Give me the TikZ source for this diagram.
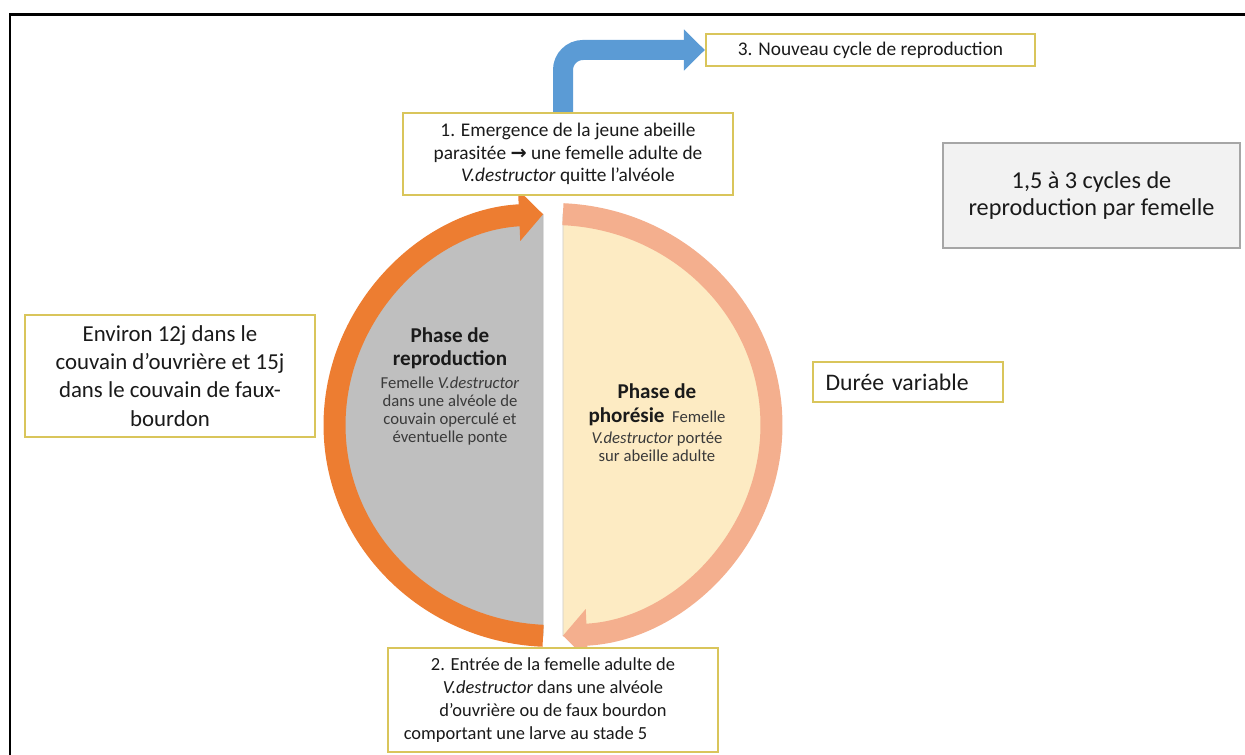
\documentclass[tikz,border=0pt]{standalone}
\usepackage{fontspec}
\setmainfont{Carlito}
\newfontfamily\symfont{DejaVu Sans}
\usetikzlibrary{positioning, arrows.meta}

\definecolor{boxline}{HTML}{D9C55B}
\definecolor{gboxline}{HTML}{A6A6A6}
\definecolor{gboxfill}{HTML}{F2F2F2}
\definecolor{txt}{HTML}{1A1A1A}
\definecolor{bodytxt}{HTML}{3A3A3A}
\definecolor{flowblue}{HTML}{5B9BD5}
\definecolor{reporange}{HTML}{ED7D31}
\definecolor{phosalmon}{HTML}{F4AF8E}
\definecolor{repfill}{HTML}{BFBFBF}
\definecolor{phofill}{HTML}{FDEBC3}

\newcommand{\phasetitle}[1]{{\bfseries\color{txt}\fontsize{12}{13}\selectfont #1}}

\begin{document}
\begin{tikzpicture}[
    ybox/.style={draw=boxline, line width=1.3pt, fill=white, align=center, text=txt, inner sep=0pt},
    gbox/.style={draw=gboxline, line width=0.8pt, fill=gboxfill, align=center, text=txt, inner sep=0pt},
    ctext/.style={align=center, inner sep=0pt, text=bodytxt, font=\fontsize{9.5}{10.3}\selectfont},
    ring/.style={line width=0.44cm, -{Triangle[length=0.48cm,width=1.0cm]}},
    bluearr/.style={draw=flowblue, line width=0.4cm, rounded corners=0.4cm, -{Triangle[length=0.42cm,width=0.8cm]}}]
    \useasboundingbox (0,0) rectangle (24.9,15.1);
    % frame
    \draw[line width=1.7pt] (0.2,0) |- (24.9,14.8);

    % the two phases
    \fill[repfill, draw=black!30, line width=0.4pt] (10.862,10.816) arc[start angle=92.6, end angle=267.4, x radius=4.37, y radius=4.22] -- cycle;
    \fill[phofill, draw=black!20, line width=0.4pt] (11.258,2.384) arc[start angle=-87.4, end angle=87.4, x radius=4.37, y radius=4.22] -- cycle;
    \draw[ring, reporange] (10.862,2.384) arc[start angle=267.4, end angle=92.6, x radius=4.37, y radius=4.22];
    \draw[ring, phosalmon] (11.258,10.816) arc[start angle=87.4, end angle=-87.4, x radius=4.37, y radius=4.22];

    \node[ctext, anchor=north] (rep) at (9.0,8.56)
      {\phasetitle{Phase de}\\[3.2pt]\phasetitle{reproduction}\\[2.4pt]
       Femelle \textit{V.destructor}\\ dans une alvéole de\\ couvain operculé et\\ éventuelle ponte};
    \node[ctext, anchor=north] (pho) at (13.14,7.44)
      {\phasetitle{Phase de}\\[3.6pt]\phasetitle{phorésie}\ \ Femelle\\[1.8pt]
       \textit{V.destructor} portée\\ sur abeille adulte};

    % boxes
    \node[ybox, minimum width=6.6cm, minimum height=1.64cm, font=\fontsize{11}{13}\selectfont] (b1) at (11.36,12.02)
      {1. Emergence de la jeune abeille\\ parasitée {\symfont\bfseries →} une femelle adulte de\\ \textit{V.destructor} quitte l'alvéole};
    \node[ybox, minimum width=6.58cm, minimum height=0.64cm, font=\fontsize{11}{12}\selectfont] (b3) at (17.41,14.1)
      {3. Nouveau cycle de reproduction};
    \node[ybox, minimum width=6.6cm, minimum height=2.08cm, font=\fontsize{10.5}{13}\selectfont] (b2) at (11.06,1.1)
      {2. Entrée de la femelle adulte de\\ \textit{V.destructor} dans une alvéole\\ d'ouvrière ou de faux bourdon\\ comportant une larve au stade 5\hspace*{1.1cm}};
    \node[ybox, minimum width=5.8cm, minimum height=2.44cm, font=\fontsize{13}{16}\selectfont] (repdur) at (3.4,7.58)
      {Environ 12j dans le\\ couvain d'ouvrière et 15j\\ dans le couvain de faux-\\ bourdon};
    \node[ybox, text width=3.3cm, inner xsep=0.25cm, minimum height=0.8cm, align=left, font=\fontsize{13.5}{15.5}\selectfont] (phodur) at (18.16,7.46)
      {Durée variable};
    \node[gbox, minimum width=5.94cm, minimum height=2.1cm, font=\fontsize{13.8}{15.5}\selectfont] (nbcyc) at (21.83,11.19)
      {1,5 à 3 cycles de\\ reproduction par femelle};

    \draw[bluearr] ([xshift=-0.1cm]b1.north) |- (b3.west);
  \end{tikzpicture}
\end{document}
